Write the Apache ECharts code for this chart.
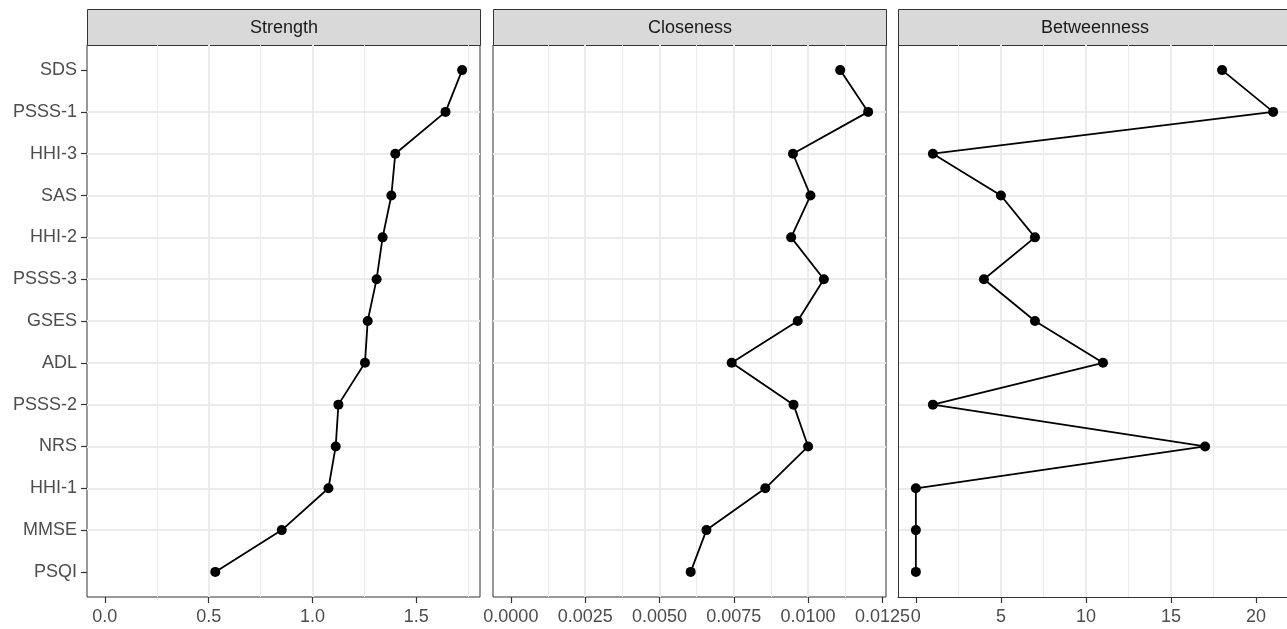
<!DOCTYPE html>
<html>
<head>
<meta charset="utf-8">
<script src="https://cdn.jsdelivr.net/npm/echarts@6/dist/echarts.min.js"></script>
<style>
  html, body { margin: 0; padding: 0; background: #fff; }
  #chart { width: 1287px; height: 629px; }
</style>
</head>
<body>
<div id="chart"></div>
<script>
// node names, top to bottom
var nodes = ['SDS', 'PSSS-1', 'HHI-3', 'SAS', 'HHI-2', 'PSSS-3', 'GSES', 'ADL', 'PSSS-2', 'NRS', 'HHI-1', 'MMSE', 'PSQI'];

var strength = [1.721, 1.641, 1.399, 1.380, 1.338, 1.309, 1.266, 1.253, 1.125, 1.112, 1.077, 0.852, 0.532];
var closeness = [0.01108, 0.01202, 0.00949, 0.01008, 0.00943, 0.01053, 0.00965, 0.00743, 0.00951, 0.01000, 0.00856, 0.00658, 0.00605];
var betweenness = [18, 21, 1, 5, 7, 4, 7, 11, 1, 17, 0, 0, 0];

var panelTitles = ['Strength', 'Closeness', 'Betweenness'];
var strengthTicks = [0, 0.5, 1.0, 1.5];
var closenessTicks = [0, 0.0025, 0.005, 0.0075, 0.01, 0.0125];
var betweennessTicks = [0, 5, 10, 15, 20];

var FONT = '"Liberation Sans", Arial, sans-serif';
var W = 1287;
var panelLeft = [87, 493, 898];
var panelW = 393;
var panelTop = 45;
var panelH = 552;
var stripTop = 9;
var stripH = 36;

// ggplot-like 5% expansion, always including 0
function limits(vals) {
  var lo = Math.min(0, Math.min.apply(null, vals));
  var hi = Math.max.apply(null, vals);
  var pad = (hi - lo) * 0.05;
  return [lo - pad, hi + pad];
}

var panels = [
  { vals: strength, ticks: strengthTicks, step: 0.5, fmt: function (v) { return v.toFixed(1); } },
  { vals: closeness, ticks: closenessTicks, step: 0.0025, fmt: function (v) { return v.toFixed(4); } },
  { vals: betweenness, ticks: betweennessTicks, step: 5, fmt: function (v) { return String(Math.round(v)); } }
];

var grids = [], xAxes = [], yAxes = [], series = [], graphics = [];
var idx = nodes.map(function (_, i) { return i; });

panels.forEach(function (p, k) {
  var lim = limits(p.vals);
  var w = panelW;
  var cut = panelLeft[k] + panelW > W;   // last panel runs past the page edge
  if (cut) {
    w = W - panelLeft[k];
    lim = [lim[0], lim[0] + (lim[1] - lim[0]) * w / panelW];
  }
  grids.push({
    left: panelLeft[k], top: panelTop, width: w, height: panelH,
    show: true, backgroundColor: '#fff', borderColor: cut ? 'transparent' : '#333333', borderWidth: cut ? 0 : 1
  });
  xAxes.push({
    type: 'value', gridIndex: k, min: lim[0], max: lim[1],
    minInterval: p.step, maxInterval: p.step,
    axisLine: { show: cut, onZero: false, lineStyle: { color: '#333333', width: 1 } },
    axisTick: { show: true, length: 6, lineStyle: { color: '#333333', width: 1.2 }, customValues: p.ticks },
    axisLabel: { color: '#4D4D4D', fontSize: 18, fontFamily: FONT, margin: 11, customValues: p.ticks, formatter: p.fmt },
    splitLine: { show: true, showMinLine: false, showMaxLine: false, lineStyle: { color: '#EBEBEB', width: 2 } },
    minorTick: { show: false, splitNumber: 2 },
    minorSplitLine: { show: true, lineStyle: { color: '#EBEBEB', width: 1 } }
  });
  yAxes.push({
    type: 'value', gridIndex: k, inverse: true, min: -0.6, max: nodes.length - 1 + 0.6,
    minInterval: 1, maxInterval: 1,
    axisLine: { show: cut, onZero: false, lineStyle: { color: '#333333', width: 1 } },
    axisTick: { show: k === 0, length: 6, lineStyle: { color: '#333333', width: 1.2 }, customValues: idx },
    axisLabel: {
      show: k === 0, color: '#4D4D4D', fontSize: 18, fontFamily: FONT, margin: 10, customValues: idx,
      formatter: function (v) { return nodes[Math.round(v)] || ''; }
    },
    splitLine: { show: true, showMinLine: false, showMaxLine: false, lineStyle: { color: '#EBEBEB', width: 2 } }
  });
  series.push({
    type: 'line', xAxisIndex: k, yAxisIndex: k,
    data: p.vals.map(function (v, i) { return [v, i]; }),
    symbol: 'circle', symbolSize: 10, showSymbol: true,
    lineStyle: { color: '#000', width: 1.8 },
    itemStyle: { color: '#000' },
    z: 5
  });
  graphics.push({
    type: 'group', left: panelLeft[k], top: stripTop,
    children: [
      { type: 'rect', shape: { x: 0, y: 0, width: panelW, height: stripH },
        style: { fill: '#D9D9D9', stroke: '#333333', lineWidth: 1 } },
      { type: 'text', x: panelW / 2, y: stripH / 2 + 1,
        style: { text: panelTitles[k], fill: '#1A1A1A', font: '18px ' + FONT, align: 'center', verticalAlign: 'middle' } }
    ]
  });
});

var chart = echarts.init(document.getElementById('chart'), null, { renderer: 'canvas' });
chart.setOption({
  backgroundColor: '#fff',
  animation: false,
  grid: grids,
  xAxis: xAxes,
  yAxis: yAxes,
  series: series,
  graphic: graphics
});
</script>
</body>
</html>
